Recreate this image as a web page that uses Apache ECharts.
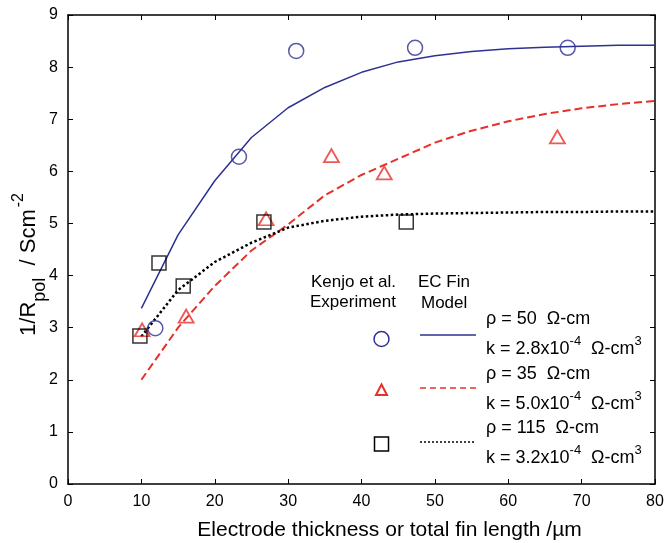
<!DOCTYPE html>
<html><head><meta charset="utf-8">
<script src="https://cdn.jsdelivr.net/npm/echarts@6/dist/echarts.min.js"></script>
<style>html,body{margin:0;padding:0;background:#fff}#c{width:667px;height:543px}</style>
</head><body><div id="c"></div>
<script>
// Experimental data (Kenjo et al.)
const expRho50 = [[11.9, 2.99], [23.3, 6.28], [31.1, 8.31], [47.3, 8.37], [68.1, 8.37]];
const expRho35 = [[10.1, 2.96], [16.1, 3.22], [27.0, 5.09], [35.9, 6.30], [43.1, 5.97], [66.7, 6.66]];
const expRho115 = [[9.8, 2.84], [12.4, 4.24], [15.7, 3.80], [26.7, 5.03], [46.1, 5.03]];
// EC Fin model curves
const modelX = [10, 15, 20, 25, 30, 35, 40, 45, 50, 55, 60, 65, 70, 75, 80];
const modelRho50 = [3.37, 4.78, 5.82, 6.65, 7.22, 7.61, 7.90, 8.10, 8.22, 8.30, 8.35, 8.38, 8.40, 8.42, 8.42];
const modelRho35 = [2.00, 3.00, 3.80, 4.48, 4.98, 5.54, 5.93, 6.24, 6.55, 6.78, 6.96, 7.10, 7.21, 7.29, 7.35];
const modelRho115 = [2.83, 3.72, 4.26, 4.63, 4.92, 5.05, 5.13, 5.17, 5.19, 5.20, 5.21, 5.22, 5.22, 5.23, 5.23];
const xTicks = [0, 10, 20, 30, 40, 50, 60, 70, 80];
const yTicks = [0, 1, 2, 3, 4, 5, 6, 7, 8, 9];

const BLUE = '#2e3192', RED = '#e8302a', BLACK = '#000';
const FONT = 'Liberation Sans';
const zip = (xs, ys) => xs.map((x, i) => [x, ys[i]]);

const chart = echarts.init(document.getElementById('c'));
function axisCommon() {
  return {
    axisLine: {show: true, onZero: false, lineStyle: {color: '#000', width: 1.5}},
    axisTick: {show: true, inside: true, length: 5, lineStyle: {color: '#000', width: 1}},
    splitLine: {show: false}
  };
}
const LF = 18;
function legendText(x, y, str) {
  return {type: 'text', left: x, top: y, style: {text: str, font: LF + 'px ' + FONT, fill: '#000',
    rich: {sup: {fontSize: 13, fontFamily: FONT, verticalAlign: 'top', lineHeight: 10, padding: [-3,0,0,0]},
           n: {fontSize: LF, fontFamily: FONT, lineHeight: 22}}}};
}
chart.setOption({
  animation: false,
  grid: {left: 68, right: 12, top: 15, bottom: 59, containLabel: false, outerBoundsMode: 'none'},
  xAxis: [
    Object.assign({type: 'value', min: 0, max: 80, interval: 10, position: 'bottom',
      name: 'Electrode thickness or total fin length /µm', nameLocation: 'middle', nameGap: 36, nameMoveOverlap: false,
      nameTextStyle: {fontSize: 21, fontFamily: FONT, color: '#000', padding: [0, 0, 0, 56]},
      axisLabel: {fontSize: 16, fontFamily: FONT, color: '#000', margin: 10,
        formatter: v => xTicks.includes(v) ? String(v) : ''}}, axisCommon()),
    Object.assign({type: 'value', min: 0, max: 80, interval: 10, position: 'top', axisLabel: {show: false}}, axisCommon())
  ],
  yAxis: [
    Object.assign({type: 'value', min: 0, max: 9, interval: 1, position: 'left',
      name: '{n|1/R}{sub|pol}{n|  / Scm}{sup|-2}', nameLocation: 'middle', nameGap: 26, nameRotate: 90, nameMoveOverlap: false,
      nameTextStyle: {fontSize: 22, fontFamily: FONT, color: '#000', padding: [0, 30, 0, 0],
        rich: {
          n: {fontSize: 22, fontFamily: FONT, color: '#000', lineHeight: 26},
          sub: {fontSize: 18, fontFamily: FONT, color: '#000', verticalAlign: 'bottom', lineHeight: 15, padding: [0, 0, -7, 0]},
          sup: {fontSize: 16, fontFamily: FONT, color: '#000', verticalAlign: 'top', lineHeight: 15, padding: [-5, 0, 0, 2]}
        }},
      axisLabel: {fontSize: 16, fontFamily: FONT, color: '#000', margin: 10,
        formatter: v => yTicks.includes(v) ? String(v) : ''}}, axisCommon()),
    Object.assign({type: 'value', min: 0, max: 9, interval: 1, position: 'right', axisLabel: {show: false}}, axisCommon())
  ],
  series: [
    {type: 'line', data: zip(modelX, modelRho50), showSymbol: false, symbol: 'none',
      lineStyle: {color: BLUE, width: 1.5}, z: 2},
    {type: 'line', data: zip(modelX, modelRho35), showSymbol: false, symbol: 'none',
      lineStyle: {color: RED, width: 2, type: [8, 4]}, z: 2},
    {type: 'line', data: zip(modelX, modelRho115), showSymbol: false, symbol: 'none',
      lineStyle: {color: BLACK, width: 2.5, type: [2.5, 2.5]}, z: 2},
    {type: 'scatter', data: expRho50, symbol: 'circle', symbolSize: 15,
      itemStyle: {color: 'rgba(0,0,0,0)', borderColor: BLUE, borderWidth: 1.5}, z: 3},
    {type: 'scatter', data: expRho35, symbol: 'triangle', symbolSize: [15, 13],
      itemStyle: {color: 'rgba(0,0,0,0)', borderColor: RED, borderWidth: 1.8}, z: 3},
    {type: 'scatter', data: expRho115, symbol: 'rect', symbolSize: 14,
      itemStyle: {color: 'rgba(0,0,0,0)', borderColor: BLACK, borderWidth: 1.5}, z: 3}
  ],
  graphic: [
    {type: 'text', left: 311, top: 274, style: {text: 'Kenjo et al.', font: '17px ' + FONT, fill: '#000'}},
    {type: 'text', left: 310, top: 294, style: {text: 'Experiment', font: '17px ' + FONT, fill: '#000'}},
    {type: 'text', left: 418, top: 274, style: {text: 'EC Fin', font: '17px ' + FONT, fill: '#000'}},
    {type: 'text', left: 421, top: 295, style: {text: 'Model', font: '17px ' + FONT, fill: '#000'}},
    {type: 'circle', shape: {cx: 381.5, cy: 339, r: 7.5}, style: {fill: 'none', stroke: BLUE, lineWidth: 1.5}},
    {type: 'polygon', shape: {points: [[381.5, 384.5], [376, 395], [387, 395]]}, style: {fill: 'none', stroke: RED, lineWidth: 2}},
    {type: 'rect', shape: {x: 374.5, y: 437, width: 14, height: 14}, style: {fill: 'none', stroke: BLACK, lineWidth: 1.5}},
    {type: 'line', shape: {x1: 420, y1: 335, x2: 476, y2: 335}, style: {stroke: BLUE, lineWidth: 1.5}},
    {type: 'line', shape: {x1: 420, y1: 388, x2: 476, y2: 388}, style: {stroke: RED, lineWidth: 1.5, lineDash: [6, 4]}},
    {type: 'line', shape: {x1: 420, y1: 442, x2: 476, y2: 442}, style: {stroke: BLACK, lineWidth: 1.5, lineDash: [2, 2]}},
    legendText(486, 310, '{n|ρ = 50  Ω-cm}'),
    legendText(486, 335, '{n|k = 2.8x10}{sup|-4}{n|  Ω-cm}{sup|3}'),
    legendText(486, 365, '{n|ρ = 35  Ω-cm}'),
    legendText(486, 390, '{n|k = 5.0x10}{sup|-4}{n|  Ω-cm}{sup|3}'),
    legendText(486, 419, '{n|ρ = 115  Ω-cm}'),
    legendText(486, 444, '{n|k = 3.2x10}{sup|-4}{n|  Ω-cm}{sup|3}')
  ]
});
</script></body></html>
